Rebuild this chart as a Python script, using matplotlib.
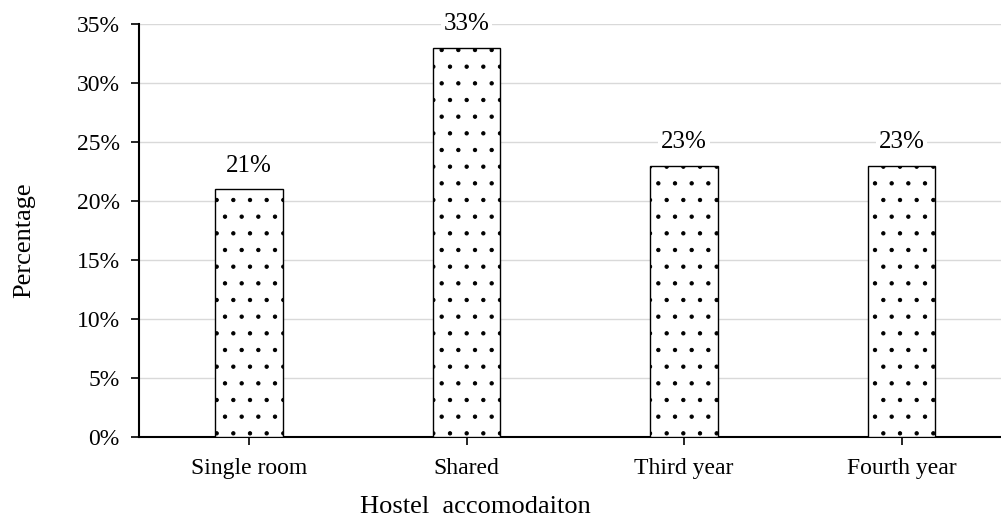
import matplotlib
matplotlib.use("Agg")
import matplotlib.pyplot as plt
from matplotlib.ticker import FuncFormatter

categories = ["Single room", "Shared", "Third year", "Fourth year"]
values = [21, 33, 23, 23]
yticks = [0, 5, 10, 15, 20, 25, 30, 35]

plt.rcParams['font.family'] = ['Liberation Serif', 'DejaVu Serif']
plt.rcParams['hatch.linewidth'] = 0.7

W, H = 1001, 518
FS = 17
fig = plt.figure(figsize=(W / 100, H / 100), dpi=100)
ax = fig.add_axes([139 / W, 1 - 437 / H, (W - 139) / W, (437 - 24) / H])

x = list(range(len(categories)))
ax.bar(x, values, width=0.31, facecolor='white', edgecolor='black',
       linewidth=1.0, hatch='.', zorder=3)
for xi, v in zip(x, values):
    ax.annotate(f"{v}%", (xi, v), xytext=(0, 9), textcoords='offset points',
                ha='center', va='bottom', fontsize=18, zorder=4,
                bbox=dict(facecolor='white', edgecolor='none', pad=2))

ax.set_xlim(-0.506, 3.457)
ax.set_ylim(0, 35)
ax.set_yticks(yticks)
ax.yaxis.set_major_formatter(FuncFormatter(lambda v, p: f"{int(v)}%"))
ax.set_xticks(x)
ax.set_xticklabels(categories)
ax.tick_params(axis='both', labelsize=FS, length=6, width=1.2, color='black')
ax.tick_params(axis='x', pad=9)
ax.tick_params(axis='y', pad=8)
ax.grid(axis='y', color='#d9d9d9', linewidth=1.0, zorder=0)
ax.set_axisbelow(True)
for s in ['top', 'right']:
    ax.spines[s].set_visible(False)
for s in ['left', 'bottom']:
    ax.spines[s].set_linewidth(1.5)
    ax.spines[s].set_color('black')

fig.text(24 / W, 1 - 240 / H, "Percentage", rotation=90, ha='center', va='center', fontsize=19)
fig.text(475 / W, 1 - 507 / H, "Hostel  accomodaiton", ha='center', va='center', fontsize=19)

fig.savefig("out.png", dpi=100)
